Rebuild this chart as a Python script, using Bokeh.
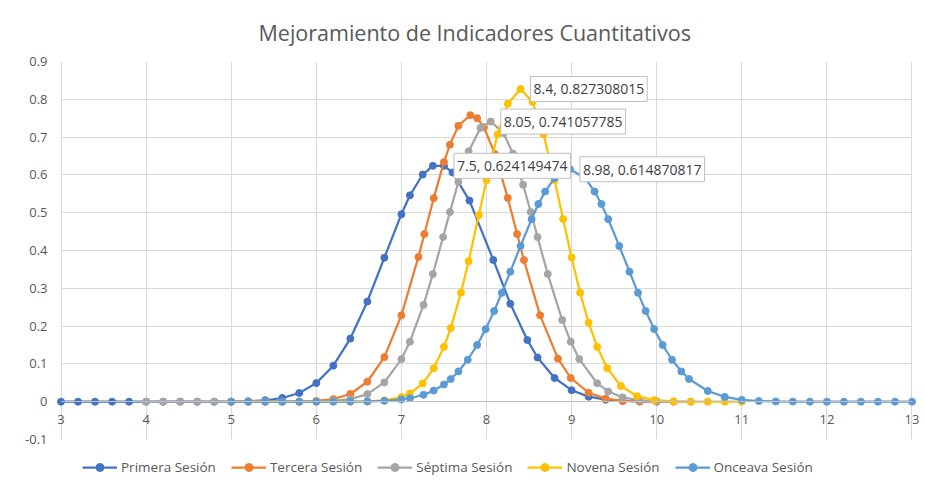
from bokeh.plotting import figure
from bokeh.models import Legend, LegendItem, Label, FixedTicker, Range1d
from bokeh.layouts import column
from bokeh.embed import file_html
from bokeh.resources import INLINE

title_text = "Mejoramiento de Indicadores Cuantitativos"
series_names = ["Primera Sesión", "Tercera Sesión", "Séptima Sesión", "Novena Sesión", "Onceava Sesión"]
series_colors = ["#4472C4", "#ED7D31", "#A5A5A5", "#FFC000", "#5B9BD5"]

x_ticks = [3, 4, 5, 6, 7, 8, 9, 10, 11, 12, 13]
y_ticks = [-0.1, 0, 0.1, 0.2, 0.3, 0.4, 0.5, 0.6, 0.7, 0.8, 0.9]
y_tick_labels = ["-0.1", "0", "0.1", "0.2", "0.3", "0.4", "0.5", "0.6", "0.7", "0.8", "0.9"]

primera_x = [3.0, 3.2, 3.4, 3.6, 3.8, 4.0, 4.2, 4.4, 4.6, 4.8, 5.0, 5.2, 5.4, 5.6, 5.8,
             6.0, 6.2, 6.4, 6.6, 6.8, 7.0, 7.1, 7.25, 7.37, 7.5, 7.6, 7.8,
             8.08, 8.28, 8.48, 8.6, 8.8, 9.0, 9.2, 9.4, 9.6, 9.8, 10.0]
primera_y = [0, 0, 0, 0, 0, 0, 0, 0, 0, 0.0001, 0.0004, 0.0013, 0.0038, 0.0098, 0.023,
             0.0492, 0.0952, 0.167, 0.265, 0.381, 0.496, 0.546, 0.601, 0.624, 0.624149474, 0.6065, 0.532,
             0.375, 0.259, 0.163, 0.117, 0.0627, 0.0304, 0.0133, 0.0053, 0.0019, 0.0006, 0.0002]

tercera_x = [5.0, 5.2, 5.4, 5.6, 5.8, 6.0, 6.2, 6.4, 6.6, 6.8,
             7.0, 7.2, 7.27, 7.38, 7.5, 7.57, 7.67, 7.81, 7.89, 7.97,
             8.1, 8.25, 8.36, 8.44, 8.63, 8.84, 8.99,
             9.2, 9.4, 9.6, 9.8, 10.0, 10.2]
tercera_y = [0, 0, 0, 0.0001, 0.0005, 0.002, 0.0068, 0.0204, 0.0528, 0.118,
             0.2285, 0.383, 0.4435, 0.5386, 0.634, 0.68, 0.73, 0.758, 0.75, 0.726,
             0.655, 0.539, 0.4435, 0.3746, 0.2285, 0.1138, 0.0627,
             0.0238, 0.0081, 0.0024, 0.0006, 0.0001, 0]

septima_x = [4.0, 4.2, 4.4, 4.6, 4.8, 5.0, 5.2, 5.4, 5.6, 5.8, 6.0, 6.2, 6.4, 6.6,
             6.8, 7.0, 7.1, 7.26, 7.37, 7.49, 7.57, 7.67, 7.79, 7.93, 8.05,
             8.2, 8.31, 8.43, 8.52, 8.6, 8.72, 8.89, 8.99, 9.09,
             9.3, 9.43, 9.6, 9.8, 10.0, 10.2, 10.4]
septima_y = [0, 0, 0, 0, 0, 0, 0, 0, 0, 0.0001, 0.0005, 0.0021, 0.007, 0.0202,
             0.0511, 0.1127, 0.1588, 0.256, 0.3377, 0.4356, 0.502, 0.5815, 0.6625, 0.7244, 0.741057785,
             0.711, 0.6565, 0.5739, 0.502, 0.4356, 0.3377, 0.216, 0.1588, 0.1127,
             0.0489, 0.0271, 0.0114, 0.0036, 0.001, 0.0002, 0]

novena_x = [5.0, 5.2, 5.4, 5.6, 5.8, 6.0, 6.2, 6.4, 6.6, 6.8,
            7.0, 7.1, 7.25, 7.38, 7.5, 7.58, 7.7, 7.79, 7.91, 8.0, 8.13, 8.25, 8.4,
            8.54, 8.67, 8.8, 8.9, 9.0, 9.1, 9.2, 9.3, 9.42, 9.58, 9.77, 9.97,
            10.2, 10.4, 10.6, 10.8, 11.0]
novena_y = [0, 0, 0, 0, 0, 0, 0, 0.0002, 0.0008, 0.0034,
            0.0122, 0.0218, 0.0481, 0.0883, 0.145, 0.1948, 0.2884, 0.3717, 0.4937, 0.5864, 0.7073, 0.7882, 0.827308015,
            0.7932, 0.7073, 0.5864, 0.4833, 0.3815, 0.2884, 0.2089, 0.145, 0.0883, 0.0414, 0.0146, 0.0041,
            0.0008, 0.0002, 0, 0, 0]

onceava_x = [5.0, 5.2, 5.4, 5.6, 5.8, 6.0, 6.2, 6.4, 6.6, 6.8,
             7.0, 7.1, 7.26, 7.38, 7.5, 7.58, 7.67, 7.78, 7.89, 7.99, 8.09, 8.18, 8.28, 8.4,
             8.53, 8.61, 8.69, 8.8, 8.98,
             9.16, 9.27, 9.35, 9.43, 9.56, 9.68, 9.78, 9.87, 9.97, 10.07, 10.18, 10.29, 10.38,
             10.6, 10.8, 11.0, 11.2, 11.4, 11.6, 11.8, 12.0, 12.2, 12.4, 12.6, 12.8, 13.0]
onceava_y = [0, 0, 0, 0, 0, 0, 0, 0.0002, 0.0007, 0.0022,
             0.0058, 0.0092, 0.0183, 0.0294, 0.0456, 0.06, 0.08, 0.111, 0.15, 0.192, 0.24, 0.288, 0.344, 0.412,
             0.483, 0.523, 0.556, 0.592, 0.614870817,
             0.592, 0.556, 0.523, 0.483, 0.412, 0.344, 0.288, 0.24, 0.192, 0.15, 0.111, 0.08, 0.06,
             0.0283, 0.0126, 0.0048, 0.0018, 0.0006, 0.0002, 0, 0, 0, 0, 0, 0, 0]

label_x = [7.5, 8.05, 8.4, 8.98]
label_y = [0.624149474, 0.741057785, 0.827308015, 0.614870817]

series_x = [primera_x, tercera_x, septima_x, novena_x, onceava_x]
series_y = [primera_y, tercera_y, septima_y, novena_y, onceava_y]

FONT = "Open Sans"
TXT = "#595959"
GRID = "#D9D9D9"

x_lo, x_hi = x_ticks[0], x_ticks[-1]
y_lo, y_hi = y_ticks[0], y_ticks[-1]
pad = 0.1  # a little room so the end tick labels "3" and "13" are not cut

p = figure(width=921, height=447, output_backend="svg", toolbar_location=None,
           x_range=Range1d(x_lo - pad, x_hi + pad), y_range=Range1d(y_lo, y_hi),
           min_border_left=52, min_border_right=1, min_border_top=59, min_border_bottom=8)

p.title.text = title_text
p.title.align = "left"
p.title.offset = 206
p.title.standoff = 30
p.title.text_font = FONT
p.title.text_font_size = "21.5px"
p.title.text_font_style = "normal"
p.title.text_color = TXT

p.outline_line_color = None
p.background_fill_color = "white"
p.border_fill_color = "white"

p.xgrid.ticker = FixedTicker(ticks=x_ticks)
p.ygrid.ticker = FixedTicker(ticks=y_ticks)
p.xgrid.grid_line_color = GRID
p.ygrid.grid_line_color = GRID
p.ygrid.cross_bounds = (x_lo, x_hi)
p.xgrid.cross_bounds = (y_lo, y_hi)

xa = p.xaxis[0]
xa.ticker = FixedTicker(ticks=x_ticks)
xa.fixed_location = 0
xa.bounds = (x_lo, x_hi)
xa.axis_line_color = "#BFBFBF"
xa.major_tick_line_color = None
xa.minor_tick_line_color = None
xa.major_tick_out = 0
xa.major_tick_in = 0
xa.major_label_standoff = 13
xa.major_label_text_font = FONT
xa.major_label_text_font_size = "13px"
xa.major_label_text_color = TXT

ya = p.yaxis[0]
ya.ticker = FixedTicker(ticks=y_ticks)
ya.major_label_overrides = {t: s for t, s in zip(y_ticks, y_tick_labels)}
ya.axis_line_color = None
ya.major_tick_line_color = None
ya.minor_tick_line_color = None
ya.major_tick_out = 0
ya.major_tick_in = 0
ya.major_label_standoff = 5
ya.major_label_text_font = FONT
ya.major_label_text_font_size = "13px"
ya.major_label_text_color = TXT

for name, color, xs, ys in zip(series_names, series_colors, series_x, series_y):
    p.line(xs, ys, line_color=color, line_width=2.25)
    p.scatter(xs, ys, marker="circle", size=7, fill_color=color, line_color=color)

for lx, ly in zip(label_x, label_y):
    p.add_layout(Label(x=lx, y=ly, text=f"{lx}, {ly}", x_offset=10,
                       text_align="left", text_baseline="middle",
                       text_font=FONT, text_font_size="14px", text_color="#404040",
                       background_fill_color="white", border_line_color="#BFBFBF",
                       padding=3))

# legend strip below the chart (its own small figure; the series there lie outside its ranges)
lg = figure(width=921, height=31, output_backend="svg", toolbar_location=None,
            x_range=Range1d(0, 1), y_range=Range1d(0, 1),
            x_axis_location=None, y_axis_location=None,
            min_border_left=0, min_border_right=0, min_border_top=0, min_border_bottom=0)
lg.grid.visible = False
lg.outline_line_color = None
lg.background_fill_color = "white"
lg.border_fill_color = "white"

items = []
for name, color, xs, ys in zip(series_names, series_colors, series_x, series_y):
    lr = lg.line(xs, ys, line_color=color, line_width=2.25)
    sr = lg.scatter(xs, ys, marker="circle", size=7, fill_color=color, line_color=color)
    items.append(LegendItem(label=name, renderers=[lr, sr]))

legend = Legend(items=items, orientation="horizontal", location=(30, 1),
                label_text_font=FONT, label_text_font_size="13.5px", label_text_color=TXT,
                glyph_width=35, label_standoff=4, spacing=15, padding=0, margin=0,
                border_line_color=None, background_fill_alpha=0)
lg.add_layout(legend)

open("out.html", "w").write(file_html(column(p, lg), INLINE))
